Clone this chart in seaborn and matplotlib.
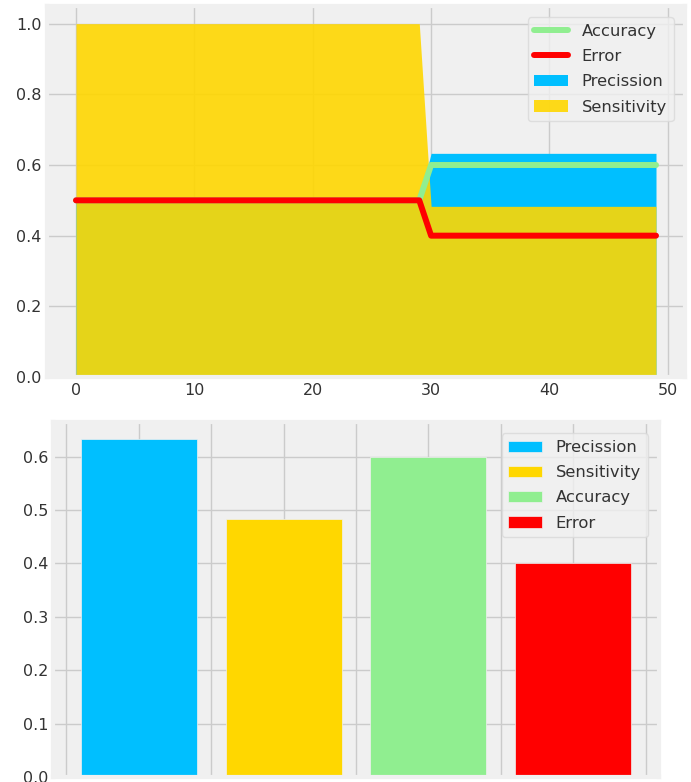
import numpy as np
import pandas as pd
import matplotlib
matplotlib.use("Agg")
import matplotlib.pyplot as plt
import seaborn as sns

# ---------------- data ----------------
epochs = list(range(50))
accuracy = [0.5, 0.5, 0.5, 0.5, 0.5, 0.5, 0.5, 0.5, 0.5, 0.5,
            0.5, 0.5, 0.5, 0.5, 0.5, 0.5, 0.5, 0.5, 0.5, 0.5,
            0.5, 0.5, 0.5, 0.5, 0.5, 0.5, 0.5, 0.5, 0.5, 0.5,
            0.6, 0.6, 0.6, 0.6, 0.6, 0.6, 0.6, 0.6, 0.6, 0.6,
            0.6, 0.6, 0.6, 0.6, 0.6, 0.6, 0.6, 0.6, 0.6, 0.6]
error = [0.5, 0.5, 0.5, 0.5, 0.5, 0.5, 0.5, 0.5, 0.5, 0.5,
         0.5, 0.5, 0.5, 0.5, 0.5, 0.5, 0.5, 0.5, 0.5, 0.5,
         0.5, 0.5, 0.5, 0.5, 0.5, 0.5, 0.5, 0.5, 0.5, 0.5,
         0.4, 0.4, 0.4, 0.4, 0.4, 0.4, 0.4, 0.4, 0.4, 0.4,
         0.4, 0.4, 0.4, 0.4, 0.4, 0.4, 0.4, 0.4, 0.4, 0.4]
precision = [0.5, 0.5, 0.5, 0.5, 0.5, 0.5, 0.5, 0.5, 0.5, 0.5,
             0.5, 0.5, 0.5, 0.5, 0.5, 0.5, 0.5, 0.5, 0.5, 0.5,
             0.5, 0.5, 0.5, 0.5, 0.5, 0.5, 0.5, 0.5, 0.5, 0.5,
             0.633, 0.633, 0.633, 0.633, 0.633, 0.633, 0.633, 0.633, 0.633, 0.633,
             0.633, 0.633, 0.633, 0.633, 0.633, 0.633, 0.633, 0.633, 0.633, 0.633]
sensitivity = [1.0, 1.0, 1.0, 1.0, 1.0, 1.0, 1.0, 1.0, 1.0, 1.0,
               1.0, 1.0, 1.0, 1.0, 1.0, 1.0, 1.0, 1.0, 1.0, 1.0,
               1.0, 1.0, 1.0, 1.0, 1.0, 1.0, 1.0, 1.0, 1.0, 1.0,
               0.483, 0.483, 0.483, 0.483, 0.483, 0.483, 0.483, 0.483, 0.483, 0.483,
               0.483, 0.483, 0.483, 0.483, 0.483, 0.483, 0.483, 0.483, 0.483, 0.483]

bar_metrics = ["Precission", "Sensitivity", "Accuracy", "Error"]
bar_values = [0.633, 0.483, 0.6, 0.4]
bar_colors = ["deepskyblue", "gold", "lightgreen", "red"]

# ---------------- style ----------------
sns.set_theme(style="whitegrid")
plt.rcParams.update({
    "font.family": ["DejaVu Sans"],
    "axes.facecolor": "#f0f0f0",
    "axes.edgecolor": "#f0f0f0",
    "axes.linewidth": 3.0,
    "grid.color": "#cbcbcb",
    "grid.linewidth": 1.0,
    "xtick.major.size": 0,
    "ytick.major.size": 0,
    "xtick.labelsize": 11.5,
    "ytick.labelsize": 11.5,
    "legend.fontsize": 11.8,
    "xtick.color": "#333333",
    "ytick.color": "#333333",
    "text.color": "#333333",
    "figure.facecolor": "white",
})

fig = plt.figure(figsize=(6.91, 7.82), dpi=100)
ax1 = fig.add_axes([47 / 691, 1 - 377 / 782, (685 - 47) / 691, (377 - 6) / 782])
ax2 = fig.add_axes([53 / 691, 1 - 777 / 782, (659 - 53) / 691, (777 - 422) / 782])

# ---------------- top panel ----------------
p_fill = ax1.fill_between(epochs, precision, color="deepskyblue", linewidth=0,
                          zorder=1, label="Precission")
s_fill = ax1.fill_between(epochs, sensitivity, color="gold", alpha=0.9, linewidth=0,
                          zorder=2, label="Sensitivity")
sns.lineplot(x=epochs, y=accuracy, color="lightgreen", linewidth=4.3, ax=ax1,
             zorder=3, label="Accuracy")
sns.lineplot(x=epochs, y=error, color="red", linewidth=4.3, ax=ax1,
             zorder=4, label="Error")
ax1.set_ylim(0, 1.05)
ax1.set_xlabel("")
ax1.set_ylabel("")
acc_line, err_line = ax1.lines[0], ax1.lines[1]
ax1.legend([acc_line, err_line, p_fill, s_fill],
           ["Accuracy", "Error", "Precission", "Sensitivity"],
           loc="upper right", fancybox=True, framealpha=0.8,
           facecolor="#f0f0f0", edgecolor="#d9d9d9",
           labelspacing=0.62, borderaxespad=0.7, handlelength=2.1)
ax1.tick_params(axis="both", pad=4)

# ---------------- bottom panel ----------------
df = pd.DataFrame({"metric": bar_metrics, "value": bar_values})
sns.barplot(data=df, x="metric", y="value", hue="metric", palette=bar_colors,
            saturation=1, width=0.8, ax=ax2, legend=True,
            edgecolor="#f0f0f0", linewidth=0.5)
leg = ax2.get_legend()
handles = list(leg.legend_handles)
labels = [t.get_text() for t in leg.get_texts()]
ax2.legend(handles, labels, loc="upper right", fancybox=True, framealpha=0.8,
           facecolor="#f0f0f0", edgecolor="#d9d9d9",
           labelspacing=0.62, borderaxespad=0.7, handlelength=2.1)
ax2.set_xticks(np.arange(-0.5, 3.6, 0.5))
ax2.set_xticklabels([])
ax2.set_xlim(-0.59, 3.59)
ax2.xaxis.grid(True)
ax2.yaxis.grid(True)
ax2.set_axisbelow(True)
ax2.set_xlabel("")
ax2.set_ylabel("")

fig.savefig("out.png", dpi=100)
